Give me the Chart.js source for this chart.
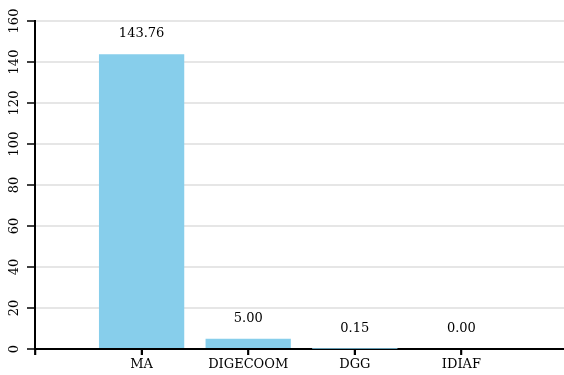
<!DOCTYPE html>
<html>
<head>
<meta charset="utf-8">
<script src="https://cdn.jsdelivr.net/npm/chart.js@4/dist/chart.umd.min.js"></script>
<style>
html,body{margin:0;padding:0;background:#fff;overflow:hidden;width:564px;height:375px;}
#wrap{position:absolute;left:0;top:0;width:570px;height:375px;}
</style>
</head>
<body>
<div id="wrap"><canvas id="c" width="570" height="375" style="width:570px;height:375px"></canvas></div>
<script>
const categories = ['MA', 'DIGECOOM', 'DGG', 'IDIAF'];
const values = [143.76, 5.00, 0.15, 0.00];
const yMin = 0, yMax = 160, yStep = 20;

const FONT = '"DejaVu Serif", serif';
const labels = [''].concat(categories, ['']);
const data = [null].concat(values, [null]);

function drawXTicks(chart) {
  const ctx = chart.ctx;
  const x = chart.scales.x;
  const base = chart.chartArea.bottom;
  ctx.save();
  ctx.strokeStyle = '#000';
  ctx.lineWidth = 1.5;
  for (let i = 0; i < x.ticks.length; i++) {
    const px = Math.round(x.getPixelForTick(i)) + 0.25;
    ctx.beginPath();
    ctx.moveTo(px, base);
    ctx.lineTo(px, base + 6);
    ctx.stroke();
  }
  ctx.restore();
}

const valueLabels = {
  id: 'valueLabels',
  afterDatasetsDraw(chart) {
    const ctx = chart.ctx;
    const meta = chart.getDatasetMeta(0);
    ctx.save();
    ctx.font = '13px ' + FONT;
    ctx.fillStyle = '#000';
    ctx.textAlign = 'center';
    ctx.textBaseline = 'middle';
    meta.data.forEach((bar, i) => {
      const v = data[i];
      if (v === null || v === undefined) return;
      ctx.fillText(v.toFixed(2), bar.x, bar.y - 20.5);
    });
    ctx.restore();
  }
};

const axisExtras = {
  id: 'axisExtras',
  afterDraw(chart) {
    const ctx = chart.ctx;
    const s = chart.scales.y;
    ctx.save();
    ctx.font = '13px ' + FONT;
    ctx.fillStyle = '#000';
    ctx.textAlign = 'center';
    ctx.textBaseline = 'middle';
    s.ticks.forEach(t => {
      const y = s.getPixelForValue(t.value);
      ctx.save();
      ctx.translate(15, y);
      ctx.rotate(-Math.PI / 2);
      ctx.fillText(String(t.value), 0, 0);
      ctx.restore();
    });
    ctx.restore();
    drawXTicks(chart);
  }
};

const chart = new Chart(document.getElementById('c'), {
  type: 'bar',
  data: {
    labels: labels,
    datasets: [{
      data: data,
      backgroundColor: '#87CEEB',
      borderWidth: 0,
      barPercentage: 0.8,
      categoryPercentage: 1.0
    }]
  },
  options: {
    responsive: false,
    animation: false,
    layout: { padding: { top: 21, left: 0, right: 0, bottom: 0 } },
    plugins: { legend: { display: false }, tooltip: { enabled: false } },
    scales: {
      x: {
        offset: false,
        grid: { display: true, offset: false, drawOnChartArea: false, drawTicks: true, tickLength: 6, tickColor: '#000', tickWidth: 1.5 },
        border: { display: true, color: '#000', width: 2 },
        ticks: { font: { family: FONT, size: 13 }, color: '#000', padding: 2, maxRotation: 0, minRotation: 0, autoSkip: false, showLabelBackdrop: false },
        afterFit(scale) { scale.height = 26; }
      },
      y: {
        min: yMin, max: yMax,
        ticks: { stepSize: yStep, display: false },
        grid: { color: '#e6e6e6', lineWidth: 2, drawTicks: true, tickLength: 8, tickColor: '#000', tickWidth: 1.5 },
        border: { display: true, color: '#000', width: 2 },
        afterFit(scale) { scale.width = 35; }
      }
    }
  },
  plugins: [valueLabels, axisExtras]
});
requestAnimationFrame(() => drawXTicks(chart));
setTimeout(() => drawXTicks(chart), 50);
</script>
</body>
</html>
